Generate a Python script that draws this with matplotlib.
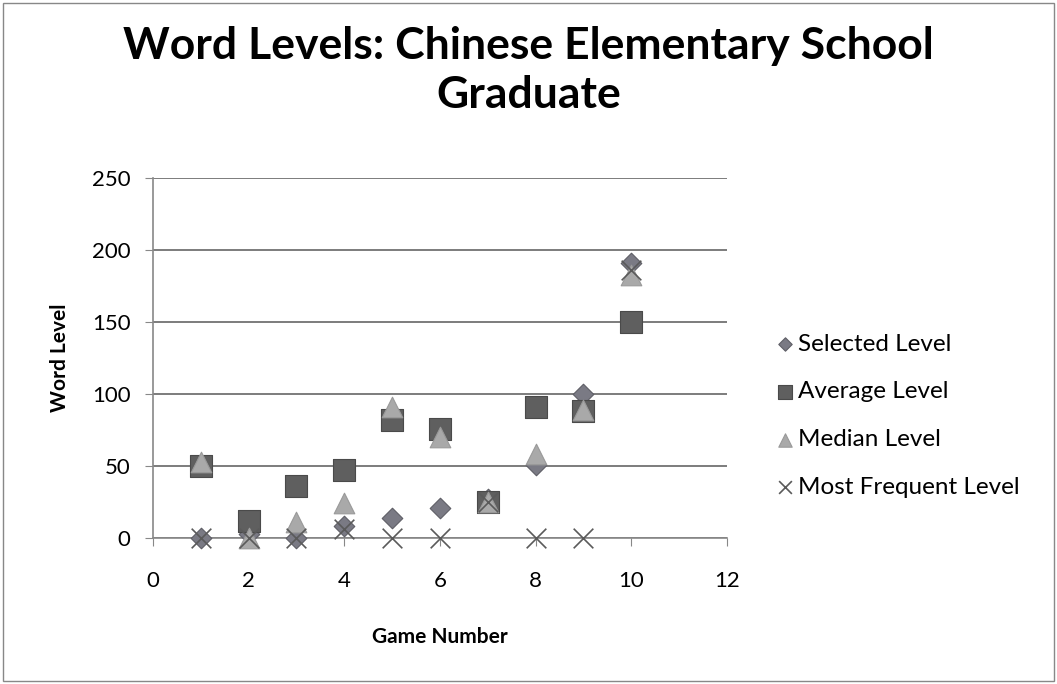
import matplotlib.pyplot as plt
from matplotlib.patches import Rectangle

games = [1, 2, 3, 4, 5, 6, 7, 8, 9, 10]
selected = [0, 3, 0, 8, 14, 21, 27, 51, 100, 191]
average = [50, 12, 36, 47, 82, 76, 25, 91, 88, 150]
median = [53, 0, 11, 24, 91, 70, 25, 58, 89, 183]
most_frequent = [0, 0, 0, 6, 0, 0, 25, 0, 0, 186]

plt.rcParams['font.family'] = ['Lato', 'DejaVu Sans']

fig = plt.figure(figsize=(10.57, 6.84), dpi=100)
fig.patches.append(Rectangle((0.003, 0.004), 0.994, 0.992, transform=fig.transFigure,
                             fill=False, edgecolor='#888888', linewidth=1))
ax = fig.add_axes([0.1447, 0.2135, 0.543, 0.526])

ax.scatter(games, selected, marker='D', s=110, color='#7a7a84', edgecolors='#5e5e66',
           linewidths=0.8, label='Selected Level', zorder=3, clip_on=False)
ax.scatter(games, average, marker='s', s=260, color='#5f5f5f', edgecolors='#4a4a4a',
           linewidths=0.8, label='Average Level', zorder=3, clip_on=False)
ax.scatter(games, median, marker='^', s=220, color='#a9a9a9', edgecolors='#999999',
           linewidths=0.8, label='Median Level', zorder=4, clip_on=False)
ax.scatter(games, most_frequent, marker='x', s=200, color='#5a5a5a',
           linewidths=1.2, label='Most Frequent Level', zorder=5, clip_on=False)

ax.set_xlim(0, 12)
ax.set_ylim(0, 250)
ax.set_xticks(range(0, 13, 2))
ax.set_yticks(range(0, 251, 50))
ax.grid(axis='y', color='#666666', linewidth=1.2)
ax.set_axisbelow(True)
for side in ['top', 'right']:
    ax.spines[side].set_visible(False)
for side in ['left', 'bottom']:
    ax.spines[side].set_color('#888888')
    ax.spines[side].set_linewidth(1.2)
ax.tick_params(axis='both', labelsize=16, color='#888888', length=6)
ax.tick_params(axis='y', pad=10)
ax.tick_params(axis='x', pad=18)

ax.set_xlabel('Game Number', fontsize=15, fontweight='bold', labelpad=26)
ax.set_ylabel('Word Level', fontsize=15, fontweight='bold', labelpad=16)

fig.text(0.5, 0.897, 'Word Levels: Chinese Elementary School\nGraduate', ha='center', va='center',
         fontsize=32, fontweight='bold', linespacing=1.25)

ax.legend(loc='center left', bbox_to_anchor=(1.065, 0.34), frameon=False, fontsize=17.5,
          handletextpad=0.1, labelspacing=1.1, handlelength=0.9, markerscale=0.65,
          borderaxespad=0)

fig.savefig('out.png', dpi=100)
